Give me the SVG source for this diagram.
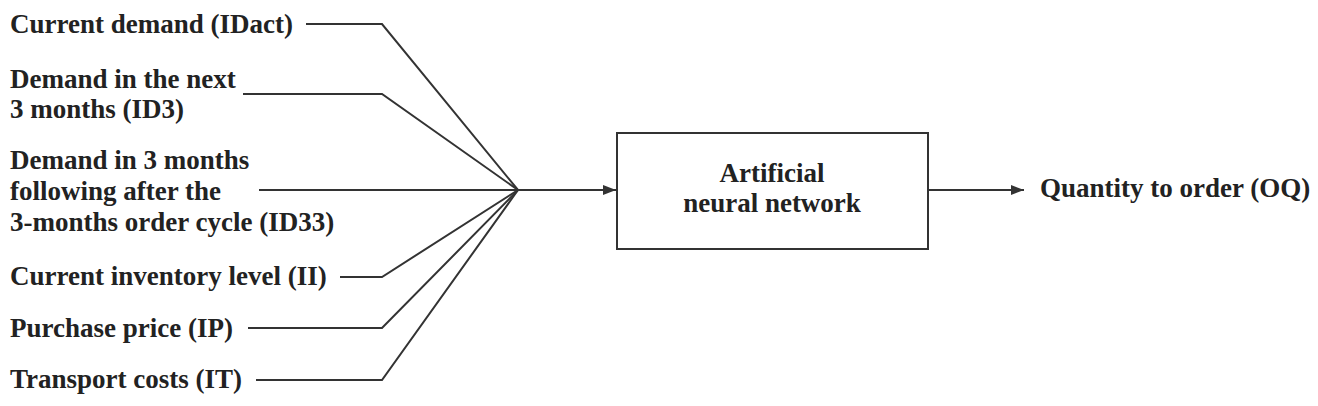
<svg xmlns="http://www.w3.org/2000/svg" width="1318" height="406" viewBox="0 0 1318 406">
<style>
text{font-family:'Liberation Serif',Tinos,'Times New Roman',Times,serif;font-weight:700;font-size:27px;fill:#222}
.c{fill:none;stroke:#333;stroke-width:2}
.box{fill:#fff;stroke:#333;stroke-width:2}
</style>
<defs>
<marker id="ah" viewBox="0 0 13 10" refX="13" refY="5" markerWidth="13" markerHeight="10" markerUnits="userSpaceOnUse" orient="auto">
<path d="M0,0 L13,5 L0,10 Z" fill="#333"/>
</marker>
</defs>
<rect width="1318" height="406" fill="#fff"/>
<g id="connectors">
<polyline class="c" points="306,24 382,24 518,190"/>
<polyline class="c" points="243,94 382,94 518,190"/>
<polyline class="c" points="259,190 518,190"/>
<polyline class="c" points="340,277 382,277 518,190"/>
<polyline class="c" points="248,328 382,328 518,190"/>
<polyline class="c" points="256,380 382,380 518,190"/>
<line class="c" x1="518" y1="190" x2="616" y2="190" marker-end="url(#ah)"/>
<line class="c" x1="928" y1="190" x2="1024" y2="190" marker-end="url(#ah)"/>
</g>
<g id="in-idact"><text x="10" y="33">Current demand (IDact)</text></g>
<g id="in-id3"><text x="10" y="88">Demand in the next</text><text x="10" y="118">3 months (ID3)</text></g>
<g id="in-id33"><text x="10" y="169">Demand in 3 months</text><text x="10" y="200">following after the</text><text x="10" y="231">3-months order cycle (ID33)</text></g>
<g id="in-ii"><text x="10" y="285">Current inventory level (II)</text></g>
<g id="in-ip"><text x="10" y="337">Purchase price (IP)</text></g>
<g id="in-it"><text x="10" y="388">Transport costs (IT)</text></g>
<g id="ann"><rect class="box" x="617" y="133" width="311" height="116"/>
<text x="772" y="182" text-anchor="middle">Artificial</text><text x="772" y="212" text-anchor="middle">neural network</text></g>
<g id="out-oq"><text x="1040" y="197">Quantity to order (OQ)</text></g>
</svg>
